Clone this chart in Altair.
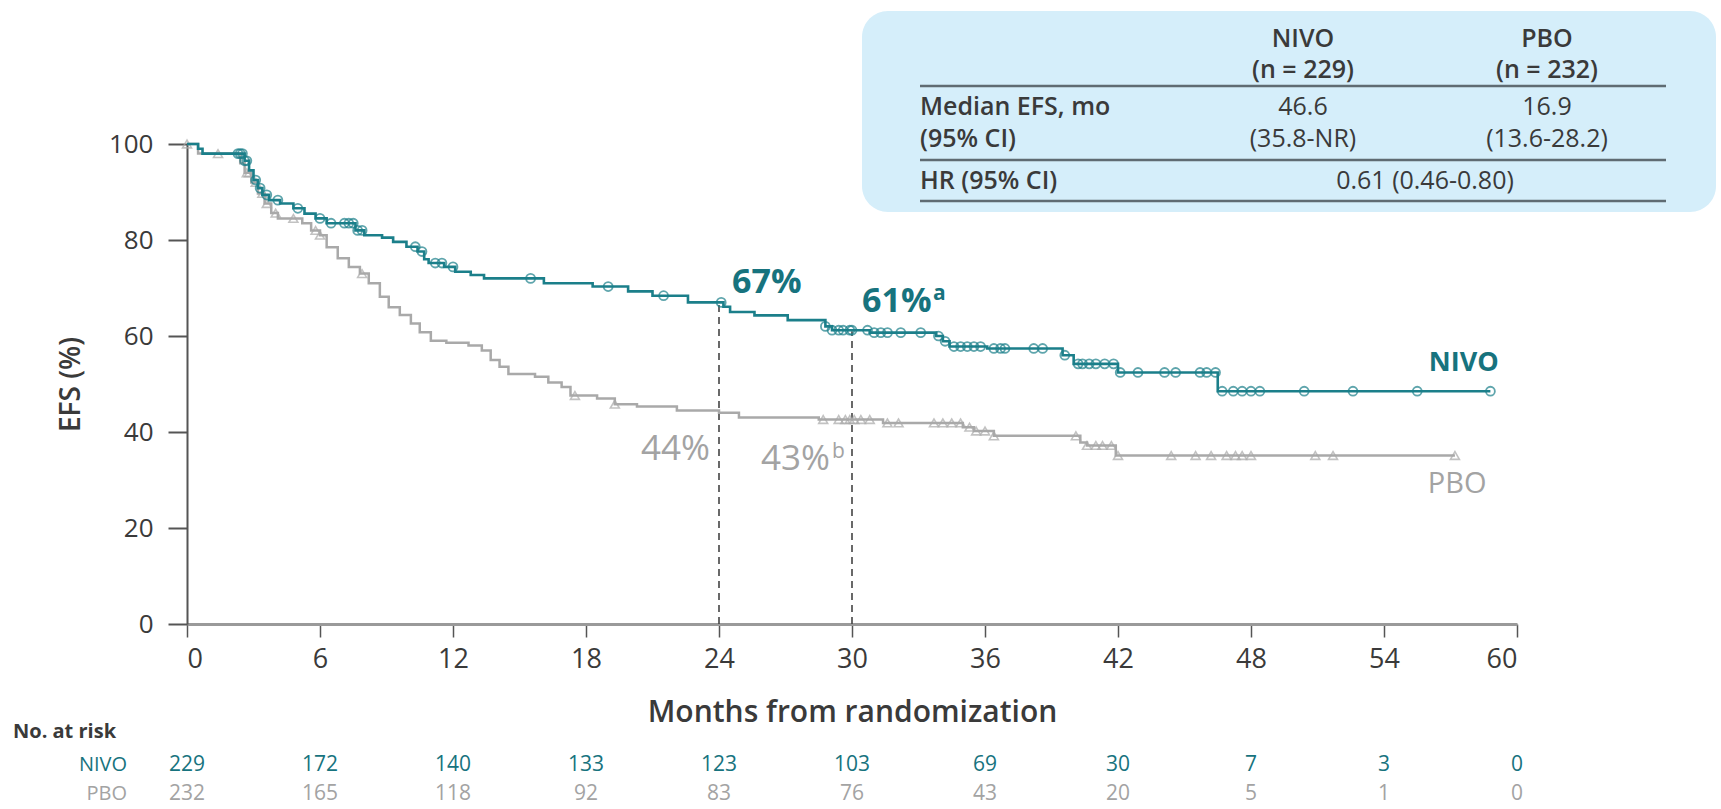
import altair as alt
import pandas as pd

# Kaplan-Meier steps: event time (months) and EFS (%) right after it
nivo_time = [0, 0.5, 0.7, 2.6, 2.8, 3.0, 3.2, 3.4, 3.7, 4.2, 4.8, 5.3, 5.8, 6.3, 7.6, 8.0,
             8.8, 9.3, 9.9, 10.4, 10.7, 10.9, 11.6, 12.1, 12.8, 13.4, 16.1, 18.3, 19.9, 21.0,
             22.6, 24.2, 24.5, 25.6, 27.1, 28.8, 29.1, 30.8, 33.8, 34.1, 34.4, 36.1, 39.5,
             40.0, 42.0, 46.5]
nivo_efs = [100, 99, 98, 96.5, 94.5, 92.5, 90.8, 89.4, 88.3, 87.6, 86.6, 85.5, 84.5, 83.5, 82, 81,
            80.5, 79.6, 78.6, 77.6, 76, 75.2, 74.4, 73.4, 72.7, 72, 71, 70.3, 69.3, 68.4,
            67, 66.1, 65, 64.3, 63.3, 62, 61.2, 60.7, 60, 58.9, 57.8, 57.4, 56,
            54.2, 52.4, 48.5]
nivo_censored = [2.3, 2.4, 2.5, 2.6, 2.7, 3.1, 3.3, 3.6, 4.1, 5.0, 6.0, 6.5, 7.1, 7.3, 7.5, 7.7,
                 7.9, 10.3, 10.6, 11.2, 11.5, 12.0, 15.5, 19.0, 21.5, 24.1, 28.8, 29.1, 29.4,
                 29.6, 29.9, 30.0, 30.7, 31.0, 31.3, 31.6, 32.2, 33.1, 33.9, 34.2, 34.6, 34.9,
                 35.2, 35.5, 35.8, 36.4, 36.7, 36.9, 38.2, 38.6, 39.6, 40.2, 40.4, 40.7, 41.0,
                 41.4, 41.8, 42.1, 42.9, 44.1, 44.6, 45.7, 46.0, 46.4, 46.7, 47.2, 47.6, 48.0,
                 48.4, 50.4, 52.6, 55.5, 58.8]

pbo_time = [0, 0.5, 2.4, 2.6, 2.9, 3.2, 3.5, 3.8, 4.1, 5.2, 5.6, 6.0, 6.3, 6.8, 7.3, 7.8, 8.2,
            8.7, 9.1, 9.6, 10.1, 10.5, 11.0, 11.7, 12.7, 13.3, 13.7, 14.1, 14.5, 15.7, 16.3,
            16.9, 17.3, 18.5, 19.3, 20.3, 22.1, 24.0, 24.9, 28.5, 31.4, 35.0, 35.5, 36.4,
            40.3, 40.6, 41.9]
pbo_efs = [100, 98, 96, 94, 92, 89.7, 87.6, 85.6, 84.5, 83.5, 82, 81, 78.5, 76.2, 74.4, 73, 71,
           68.2, 66, 64.4, 62.6, 60.8, 59, 58.6, 58, 57, 55, 53.6, 52.1, 51.5, 50.3,
           49.4, 47.6, 47, 45.8, 45.3, 44.5, 44, 43, 42.6, 41.9, 41, 40.2, 39.2,
           37.8, 37.2, 35.1]
pbo_censored = [0, 1.4, 2.7, 2.8, 3.1, 3.4, 3.6, 4.0, 4.8, 5.8, 6.0, 7.9, 17.5, 19.3, 28.7,
                29.4, 29.7, 29.9, 30.1, 30.4, 30.8, 31.6, 32.1, 33.7, 34.1, 34.5, 34.9, 35.3,
                35.6, 36.0, 36.4, 40.1, 40.6, 41.0, 41.3, 41.7, 42.0, 44.4, 45.5, 46.2, 46.9,
                47.3, 47.6, 48.0, 50.9, 51.7, 57.2]

# Landmark estimates at 24 and 30 months
landmark_month = [24, 30]
nivo_landmark = [67, 61]
pbo_landmark = [44, 43]

# Number at risk
risk_month = [0, 6, 12, 18, 24, 30, 36, 42, 48, 54, 60]
nivo_risk = [229, 172, 140, 133, 123, 103, 69, 30, 7, 3, 0]
pbo_risk = [232, 165, 118, 92, 83, 76, 43, 20, 5, 1, 0]

TEAL = "#1b7f8a"
TEAL_TEXT = "#17737e"
GREY = "#a9a9a9"
GREY_TEXT = "#a3a3a3"
DARK = "#3a3a3a"
FONT = "Open Sans"


def efs_at(times, values, t):
    v = values[0]
    for ti, vi in zip(times, values):
        if ti <= t:
            v = vi
    return v


def curve_frame(times, values, censored):
    end = max(censored)
    return pd.DataFrame({"month": times + [end], "efs": values + [efs_at(times, values, end)]})


def censor_frame(times, values, censored):
    return pd.DataFrame({"month": censored, "efs": [efs_at(times, values, t) for t in censored]})


x_scale = alt.Scale(domain=[0, 60], nice=False)
y_scale = alt.Scale(domain=[0, 100], nice=False)
one = pd.DataFrame({"k": [0]})


def note(text, x, y, size=25, weight="normal", align="center", color=DARK):
    return alt.Chart(one).mark_text(
        text=text, fontSize=size, fontWeight=weight, align=align, baseline="middle",
        color=color, font=FONT,
    ).encode(x=alt.value(x), y=alt.value(y))


def hline(x1, x2, y):
    return alt.Chart(one).mark_rule(color="#5f6b72", strokeWidth=2.5).encode(
        x=alt.value(x1), x2=alt.value(x2), y=alt.value(y))


nivo_curve = curve_frame(nivo_time, nivo_efs, nivo_censored)
pbo_curve = curve_frame(pbo_time, pbo_efs, pbo_censored)
nivo_marks = censor_frame(nivo_time, nivo_efs, nivo_censored)
pbo_marks = censor_frame(pbo_time, pbo_efs, pbo_censored)
landmarks = pd.DataFrame({"month": landmark_month, "nivo": nivo_landmark, "pbo": pbo_landmark,
                          "zero": [0, 0]})
risk = pd.DataFrame({"month": risk_month, "nivo": nivo_risk, "pbo": pbo_risk})

x_axis = alt.Axis(values=risk_month, tickSize=13, tickWidth=1.5, tickColor="#555",
                  domainColor="#9a9a9a", domainWidth=3, labelFontSize=27, labelPadding=9,
                  labelColor=DARK, labelFont=FONT, title="Months from randomization",
                  titleFontSize=30, titleFontWeight=600, titleColor=DARK, titleFont=FONT,
                  titleY=88, titleBaseline="middle", grid=False)
y_axis = alt.Axis(values=[0, 20, 40, 60, 80, 100], tickSize=19, tickWidth=2, tickColor="#555",
                  domainColor="#555", domainWidth=2, labelFontSize=26, labelPadding=15,
                  labelColor=DARK, labelFont=FONT, title="EFS (%)", titleFontSize=28,
                  titleFontWeight=600, titleColor=DARK, titleFont=FONT, titleX=-116, titleY=240,
                  titleBaseline="middle", grid=False)

base_x = alt.X("month:Q", scale=x_scale, axis=x_axis)

# Summary table panel
panel = alt.Chart(one).mark_rect(fill="#d5eefa", cornerRadius=26).encode(
    x=alt.value(675), x2=alt.value(1529), y=alt.value(-133), y2=alt.value(68))
table = [
    panel,
    note("NIVO", 1116, -105, weight=600),
    note("(n = 229)", 1116, -74, weight=600),
    note("PBO", 1360, -105, weight=600),
    note("(n = 232)", 1360, -74, weight=600),
    hline(733, 1479, -58),
    note("Median EFS, mo", 733, -37, weight=600, align="left"),
    note("(95% CI)", 733, -5, weight=600, align="left"),
    note("46.6", 1116, -37),
    note("(35.8-NR)", 1116, -5),
    note("16.9", 1360, -37),
    note("(13.6-28.2)", 1360, -5),
    hline(733, 1479, 16),
    note("HR (95% CI)", 733, 37, weight=600, align="left"),
    note("0.61 (0.46-0.80)", 1238, 37),
    hline(733, 1479, 57),
]

dashes = alt.Chart(landmarks).mark_rule(color="#444", strokeWidth=1.6, strokeDash=[7, 5]).encode(
    x=base_x, y=alt.Y("zero:Q", scale=y_scale, axis=y_axis), y2="nivo:Q")

pbo_line = alt.Chart(pbo_curve).mark_line(interpolate="step-after", color=GREY, strokeWidth=2.5).encode(
    x=base_x, y=alt.Y("efs:Q", scale=y_scale, axis=y_axis))
pbo_pts = alt.Chart(pbo_marks).mark_point(shape="triangle-up", filled=False, color=GREY, size=80,
                                          strokeWidth=1.6).encode(
    x=base_x, y=alt.Y("efs:Q", scale=y_scale))
nivo_line = alt.Chart(nivo_curve).mark_line(interpolate="step-after", color=TEAL, strokeWidth=2.6).encode(
    x=base_x, y=alt.Y("efs:Q", scale=y_scale))
nivo_pts = alt.Chart(nivo_marks).mark_point(shape="circle", filled=False, color=TEAL, size=80,
                                            strokeWidth=1.8).encode(
    x=base_x, y=alt.Y("efs:Q", scale=y_scale))

lm = alt.Chart(landmarks)
lab_67 = lm.transform_filter("datum.month == 24").mark_text(
    align="left", baseline="alphabetic", dx=13, dy=-9, fontSize=34, fontWeight="bold",
    color=TEAL_TEXT, font=FONT).encode(x=base_x, y=alt.Y("nivo:Q", scale=y_scale),
                                       text=alt.Text("label:N")).transform_calculate(
    label="datum.nivo + '%'")
lab_61 = lm.transform_filter("datum.month == 30").mark_text(
    align="left", baseline="alphabetic", dx=10, dy=-19, fontSize=34, fontWeight="bold",
    color=TEAL_TEXT, font=FONT).encode(x=base_x, y=alt.Y("nivo:Q", scale=y_scale),
                                       text=alt.Text("label:N")).transform_calculate(
    label="datum.nivo + '%'")
sup_a = lm.transform_filter("datum.month == 30").mark_text(
    text="a", align="left", baseline="alphabetic", dx=81, dy=-31, fontSize=21, fontWeight="bold",
    color=TEAL_TEXT, font=FONT).encode(x=base_x, y=alt.Y("nivo:Q", scale=y_scale))
lab_44 = lm.transform_filter("datum.month == 24").mark_text(
    align="right", baseline="alphabetic", dx=-9, dy=47, fontSize=35, color=GREY_TEXT,
    font=FONT).encode(x=base_x, y=alt.Y("pbo:Q", scale=y_scale),
                      text=alt.Text("label:N")).transform_calculate(label="datum.pbo + '%'")
lab_43 = lm.transform_filter("datum.month == 30").mark_text(
    align="right", baseline="alphabetic", dx=-22, dy=52, fontSize=35, color=GREY_TEXT,
    font=FONT).encode(x=base_x, y=alt.Y("pbo:Q", scale=y_scale),
                      text=alt.Text("label:N")).transform_calculate(label="datum.pbo + '%'")
sup_b = lm.transform_filter("datum.month == 30").mark_text(
    text="b", align="left", baseline="alphabetic", dx=-20, dy=40, fontSize=21, color=GREY_TEXT,
    font=FONT).encode(x=base_x, y=alt.Y("pbo:Q", scale=y_scale))

arm_names = pd.DataFrame({"arm": ["NIVO", "PBO"], "month": [57.6, 57.3], "efs": [54.4, 29.2]})
nivo_name = alt.Chart(arm_names).transform_filter("datum.arm == 'NIVO'").mark_text(
    fontSize=27, fontWeight="bold", color=TEAL_TEXT, font=FONT, baseline="middle").encode(
    x=base_x, y=alt.Y("efs:Q", scale=y_scale), text="arm:N")
pbo_name = alt.Chart(arm_names).transform_filter("datum.arm == 'PBO'").mark_text(
    fontSize=29, color=GREY_TEXT, font=FONT, baseline="middle").encode(
    x=base_x, y=alt.Y("efs:Q", scale=y_scale), text="arm:N")

# Number-at-risk table under the axis
risk_head = note("No. at risk", -174, 588, size=20, weight="bold", align="left")
risk_nivo_lbl = note("NIVO", -60, 621, size=20, align="right", color=TEAL_TEXT)
risk_pbo_lbl = note("PBO", -60, 650, size=20, align="right", color=GREY_TEXT)
risk_nivo = alt.Chart(risk).mark_text(fontSize=21, color=TEAL_TEXT, font=FONT, baseline="middle").encode(
    x=base_x, y=alt.value(621), text="nivo:Q")
risk_pbo = alt.Chart(risk).mark_text(fontSize=21, color=GREY_TEXT, font=FONT, baseline="middle").encode(
    x=base_x, y=alt.value(650), text="pbo:Q")

chart = alt.layer(
    dashes, pbo_line, pbo_pts, nivo_line, nivo_pts, *table,
    lab_67, lab_61, sup_a, lab_44, lab_43, sup_b, nivo_name, pbo_name,
    risk_head, risk_nivo_lbl, risk_pbo_lbl, risk_nivo, risk_pbo,
).properties(
    width=1330, height=480, autosize="none",
    padding={"left": 187, "top": 144, "right": 204, "bottom": 185},
    background="white",
).configure(font=FONT).configure_view(stroke=None, strokeWidth=0)

chart.save("out.html", embed_options={"renderer": "svg", "actions": False})
